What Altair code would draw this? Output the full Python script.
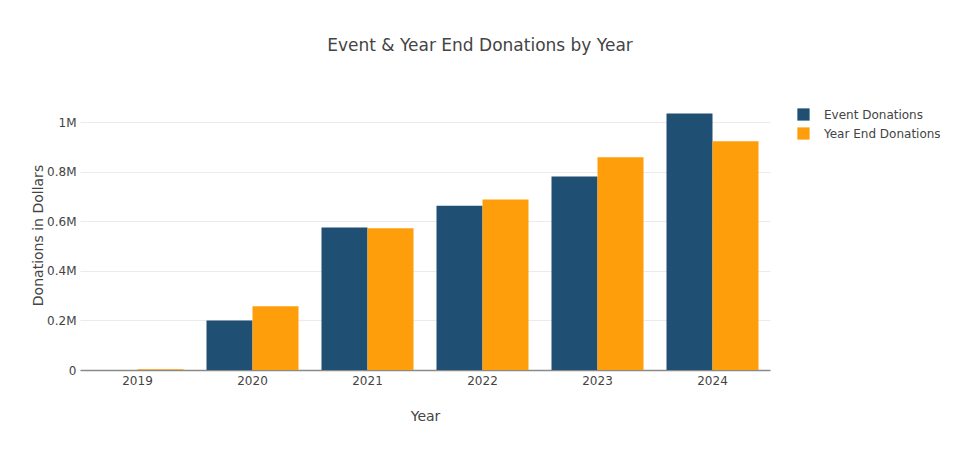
import altair as alt
import pandas as pd

years = ["2019", "2020", "2021", "2022", "2023", "2024"]
event_donations = [0, 200000, 575000, 663000, 781000, 1035000]
year_end_donations = [3000, 257000, 572000, 688000, 859000, 923000]
series_names = ["Event Donations", "Year End Donations"]
series_colors = ["#1f4f73", "#ff9e0b"]

rows = []
for i, y in enumerate(years):
    rows.append({"Year": y, "Series": series_names[0], "Value": event_donations[i]})
    rows.append({"Year": y, "Series": series_names[1], "Value": year_end_donations[i]})
df = pd.DataFrame(rows)

FONT = "DejaVu Sans"
TXT = "#444444"

chart = alt.Chart(df).mark_bar().encode(
    x=alt.X("Year:N", sort=years,
            scale=alt.Scale(paddingInner=0.2, paddingOuter=0.1),
            axis=alt.Axis(title="Year", labelAngle=0, ticks=False, labelPadding=5,
                          domainColor="#8a8a8a", domainWidth=1.5, grid=False,
                          titleY=46, titleBaseline="middle", titleFontSize=14,
                          titleFontWeight="normal", labelFontSize=12)),
    xOffset=alt.XOffset("Series:N", sort=series_names, scale=alt.Scale(paddingInner=0, paddingOuter=0)),
    y=alt.Y("Value:Q", scale=alt.Scale(domain=[0, 1090000], nice=False),
            axis=alt.Axis(title="Donations in Dollars", values=[0, 200000, 400000, 600000, 800000, 1000000],
                          labelExpr="datum.value == 0 ? '0' : format(datum.value/1e6, '~g') + 'M'",
                          ticks=False, domain=False, labelPadding=4, gridColor="#ebebeb",
                          titleX=-35, titleY=135, titleFontSize=14, titleFontWeight="normal",
                          labelFontSize=12)),
    color=alt.Color("Series:N", sort=series_names,
                    scale=alt.Scale(domain=series_names, range=series_colors),
                    legend=alt.Legend(title=None, orient="none", legendX=717, legendY=8,
                                      symbolType="square", symbolSize=150, symbolStrokeWidth=0,
                                      labelFontSize=12, labelOffset=14, rowPadding=6)),
).properties(
    width=690,
    height=270,
    title=alt.TitleParams("Event & Year End Donations by Year", fontSize=17, fontWeight="normal",
                          color=TXT, font=FONT, anchor="middle", dx=55, offset=45),
    autosize=alt.AutoSizeParams(type="none"),
    padding={"left": 72, "top": 92, "right": 181, "bottom": 70},
).configure(font=FONT).configure_axis(
    labelColor=TXT, titleColor=TXT, labelFont=FONT, titleFont=FONT
).configure_legend(labelColor=TXT, labelFont=FONT).configure_view(stroke=None)

chart.save("out.html", embed_options={"renderer": "svg", "actions": False})
